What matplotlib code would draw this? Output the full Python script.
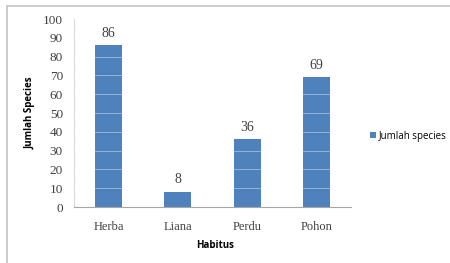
import matplotlib
matplotlib.use("Agg")
import matplotlib.pyplot as plt
from matplotlib.lines import Line2D

categories = ["Herba", "Liana", "Perdu", "Pohon"]
counts = [86, 8, 36, 69]
y_ticks = list(range(0, 101, 10))

BAR_COLOR = "#4f81bd"
SERIF = ["Liberation Serif", "DejaVu Serif"]
SANS = ["Open Sans", "DejaVu Sans"]

fig = plt.figure(figsize=(4.5, 2.63), dpi=100)
ax = fig.add_axes([74 / 450, 1 - 207 / 263, 277 / 450, 188 / 263])

x = range(len(categories))
ax.bar(x, counts, width=0.39, color=BAR_COLOR, zorder=2, label="Jumlah species")

# light gridlines only show up on the bars
for t in y_ticks[1:]:
    ax.axhline(t, color="white", lw=0.7, alpha=0.4, zorder=3)

for xi, v in zip(x, counts):
    ax.text(xi, v + 3, str(v), ha="center", va="bottom", fontsize=10,
            family=SERIF, color="#404040")

ax.set_xlim(-0.5, 3.5)
ax.set_ylim(0, 100)
ax.set_yticks(y_ticks)
ax.set_xticks(list(x))
ax.set_xticklabels(categories, family=SERIF, fontsize=9, color="#404040")
ax.set_yticklabels([str(t) for t in y_ticks], family=SERIF, fontsize=9.5,
                   color="#404040")
ax.tick_params(length=0, pad=8)
ax.tick_params(axis="x", pad=10)

for side in ["top", "right"]:
    ax.spines[side].set_visible(False)
ax.spines["left"].set_color("#d9d9d9")
ax.spines["bottom"].set_color("#a6a6a6")
ax.spines["left"].set_linewidth(0.8)
ax.spines["bottom"].set_linewidth(0.8)

fig.text(30 / 450, 1 - 113 / 263, "Jumlah Species", rotation=90, ha="center",
         va="center", fontsize=7, fontweight="bold", family=SANS)
fig.text(215 / 450, 1 - 245 / 263, "Habitus", ha="center", va="center",
         fontsize=7, fontweight="bold", family=SANS)

fig.legend(loc="center left", bbox_to_anchor=(370 / 450, 1 - 136 / 263),
           frameon=False, prop={"family": SANS, "size": 7},
           handlelength=0.6, handleheight=0.6, handletextpad=0.3,
           borderpad=0, borderaxespad=0)

# frame remnants: top and left edge only
fig.add_artist(Line2D([7 / 450, 1], [1 - 5.5 / 263, 1 - 5.5 / 263],
                      transform=fig.transFigure, color="#c8c8c8", lw=1.3))
fig.add_artist(Line2D([7 / 450, 7 / 450], [0, 1 - 5.5 / 263],
                      transform=fig.transFigure, color="#c8c8c8", lw=1.3))

fig.savefig("out.png", dpi=100)
